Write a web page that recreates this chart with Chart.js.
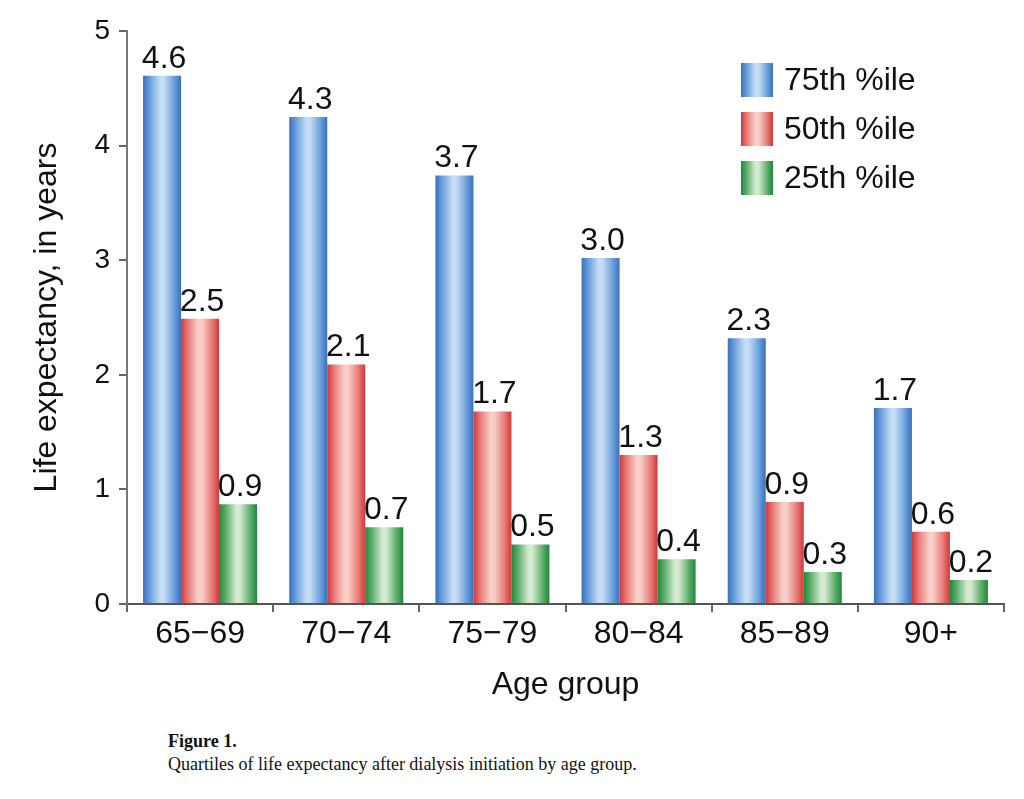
<!DOCTYPE html>
<html>
<head>
<meta charset="utf-8">
<script src="https://cdn.jsdelivr.net/npm/chart.js@4/dist/chart.umd.min.js"></script>
<style>
  body { margin: 0; background: #fff; }
  #wrap { position: relative; width: 1024px; height: 799px; }
  #chart-box { position: absolute; left: 0; top: 0; width: 1024px; height: 710px; }
  #caption {
    position: absolute; left: 168px; top: 730px;
    font-family: "Liberation Serif", "Times New Roman", serif;
    font-size: 18px; line-height: 23px; color: #111;
  }
  #caption b { font-weight: bold; }
</style>
</head>
<body>
<div id="wrap">
  <div id="chart-box"><canvas id="chart" width="1024" height="710"></canvas></div>
  <div id="caption"><b>Figure 1.</b><br>Quartiles of life expectancy after dialysis initiation by age group.</div>
</div>
<script>
const ageGroups = ["65\u221269", "70\u221274", "75\u221279", "80\u221284", "85\u221289", "90+"];
const seriesNames = ["75th %ile", "50th %ile", "25th %ile"];

const p75 = [4.61, 4.25, 3.74, 3.02, 2.32, 1.71];
const p50 = [2.49, 2.09, 1.68, 1.30, 0.89, 0.63];
const p25 = [0.87, 0.67, 0.52, 0.39, 0.28, 0.21];

// printed labels above bars
const p75Labels = ["4.6", "4.3", "3.7", "3.0", "2.3", "1.7"];
const p50Labels = ["2.5", "2.1", "1.7", "1.3", "0.9", "0.6"];
const p25Labels = ["0.9", "0.7", "0.5", "0.4", "0.3", "0.2"];

const yTicks = [0, 1, 2, 3, 4, 5];

const FONT = '"Liberation Sans", Arial, Helvetica, sans-serif';

// edge / mid / highlight colours for the shaded bars
const shades = [
    { edge: "#3a70bc", mid: "#6a9fdc", light: "#c4dcf4" }, // blue
    { edge: "#d03838", mid: "#e77a76", light: "#f8cfc8" }, // red
    { edge: "#1d873a", mid: "#5fae6c", light: "#d3ead0" }, // green
];

function makeGradient(ctx, x0, x1, s) {
    const g = ctx.createLinearGradient(x0, 0, x1, 0);
    g.addColorStop(0, s.edge);
    g.addColorStop(0.18, s.mid);
    g.addColorStop(0.45, s.light);
    g.addColorStop(0.55, s.light);
    g.addColorStop(0.82, s.mid);
    g.addColorStop(1, s.edge);
    return g;
}

// swap the flat colours for shaded gradients once bar positions are known
const shadePlugin = {
    id: "shade",
    beforeDatasetsDraw(chart) {
        const ctx = chart.ctx;
        chart.data.datasets.forEach((ds, i) => {
            const meta = chart.getDatasetMeta(i);
            meta.data.forEach((bar) => {
                const x0 = bar.x - bar.width / 2;
                const x1 = bar.x + bar.width / 2;
                bar.options.backgroundColor = makeGradient(ctx, x0, x1, shades[i]);
            });
        });
    },
};

// value labels above bars + legend at top right
const labelPlugin = {
    id: "barLabels",
    afterDatasetsDraw(chart) {
        const ctx = chart.ctx;
        ctx.save();
        ctx.font = "32px " + FONT;
        ctx.fillStyle = "#111";
        ctx.textAlign = "center";
        ctx.textBaseline = "alphabetic";
        chart.data.datasets.forEach((ds, i) => {
            const meta = chart.getDatasetMeta(i);
            meta.data.forEach((bar, j) => {
                ctx.fillText(ds.valueLabels[j], bar.x + 2, bar.y - 8);
            });
        });

        // legend
        const lx = 741, ly = 63, bw = 32, bh = 34, pitch = 49;
        ctx.textAlign = "left";
        ctx.textBaseline = "middle";
        chart.data.datasets.forEach((ds, i) => {
            const y = ly + i * pitch;
            ctx.fillStyle = makeGradient(ctx, lx, lx + bw, shades[i]);
            ctx.fillRect(lx, y, bw, bh);
            ctx.fillStyle = "#111";
            ctx.fillText(ds.label, lx + 43, y + bh / 2 + 1);
        });
        ctx.restore();
    },
};

new Chart(document.getElementById("chart"), {
    type: "bar",
    data: {
        labels: ageGroups,
        datasets: [
            { label: seriesNames[0], data: p75, valueLabels: p75Labels, backgroundColor: (c) => shades[0].mid },
            { label: seriesNames[1], data: p50, valueLabels: p50Labels, backgroundColor: (c) => shades[1].mid },
            { label: seriesNames[2], data: p25, valueLabels: p25Labels, backgroundColor: (c) => shades[2].mid },
        ],
    },
    options: {
        responsive: false,
        animation: false,
        layout: { padding: { top: 31, right: 20, left: 0, bottom: 0 } },
        datasets: {
            bar: { categoryPercentage: 0.78, barPercentage: 1.0, borderWidth: 0 },
        },
        plugins: {
            legend: { display: false },
            tooltip: { enabled: false },
        },
        scales: {
            x: {
                grid: { display: true, drawOnChartArea: false, offset: true, tickLength: 8, color: "#666", lineWidth: 2 },
                border: { display: true, color: "#555", width: 2 },
                ticks: { color: "#111", font: { family: FONT, size: 32 }, padding: 3 },
                title: { display: true, text: "Age group", color: "#111", font: { family: FONT, size: 32 }, padding: { top: 2, bottom: 6 } },
                afterFit(scale) { scale.height = 106; },
            },
            y: {
                min: 0,
                max: 5,
                afterBuildTicks(scale) { scale.ticks = yTicks.map((v) => ({ value: v })); },
                grid: { display: true, drawOnChartArea: false, tickLength: 8, color: "#666", lineWidth: 2 },
                border: { display: true, color: "#777", width: 2 },
                ticks: { color: "#111", font: { family: FONT, size: 28 }, padding: 9 },
                title: { display: true, text: "Life expectancy, in years", color: "#111", font: { family: FONT, size: 32 }, padding: { top: 28 } },
                afterFit(scale) { scale.width = 127; },
            },
        },
    },
    plugins: [shadePlugin, labelPlugin],
});
</script>
</body>
</html>
